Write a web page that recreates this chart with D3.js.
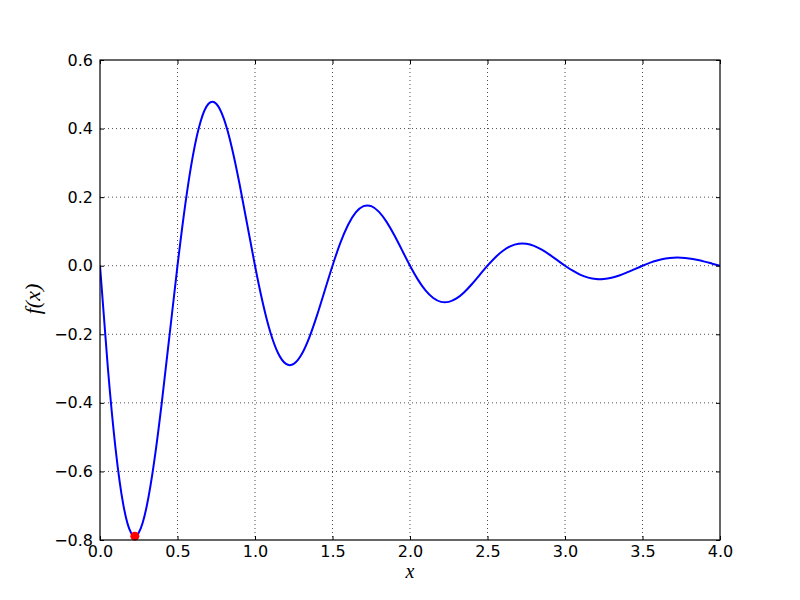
<!DOCTYPE html>
<html><head><meta charset="utf-8">
<script src="https://cdn.jsdelivr.net/npm/d3@7"></script>
<style>body{margin:0;background:#fff}svg{display:block}</style>
</head><body>
<svg id="c" width="800" height="600"></svg>
<script>
const xValues = [0,0.05,0.1,0.15,0.2,0.25,0.3,0.35,0.4,0.45,0.5,0.55,0.6,0.65,0.7,0.75,0.8,0.85,0.9,0.95,
1,1.05,1.1,1.15,1.2,1.25,1.3,1.35,1.4,1.45,1.5,1.55,1.6,1.65,1.7,1.75,1.8,1.85,1.9,1.95,
2,2.05,2.1,2.15,2.2,2.25,2.3,2.35,2.4,2.45,2.5,2.55,2.6,2.65,2.7,2.75,2.8,2.85,2.9,2.95,
3,3.05,3.1,3.15,3.2,3.25,3.3,3.35,3.4,3.45,3.5,3.55,3.6,3.65,3.7,3.75,3.8,3.85,3.9,3.95,4];
const yValues = [0,-0.2939,-0.5319,-0.6963,-0.7787,-0.7788,-0.7046,-0.5701,-0.3940,-0.1970,
0,0.1783,0.3226,0.4223,0.4723,0.4724,0.4274,0.3458,0.2390,0.1195,
0,-0.1081,-0.1957,-0.2562,-0.2865,-0.2865,-0.2592,-0.2097,-0.1450,-0.0725,
0,0.0656,0.1187,0.1554,0.1737,0.1738,0.1572,0.1272,0.0879,0.0440,
0,-0.0398,-0.0720,-0.0942,-0.1054,-0.1054,-0.0954,-0.0772,-0.0533,-0.0267,
0,0.0241,0.0437,0.0572,0.0639,0.0639,0.0578,0.0468,0.0323,0.0162,
0,-0.0146,-0.0265,-0.0347,-0.0388,-0.0388,-0.0351,-0.0284,-0.0196,-0.0098,
0,0.0089,0.0161,0.0210,0.0235,0.0235,0.0213,0.0172,0.0119,0.0059,0];
const minPoint = [0.2249, -0.7887];
const xTicks = [0,0.5,1,1.5,2,2.5,3,3.5,4];
const yTicks = [-0.8,-0.6,-0.4,-0.2,0,0.2,0.4,0.6];

const L=100,R=720,T=60,B=540;
const svg=d3.select('#c');
const x=d3.scaleLinear().domain([0,4]).range([L,R]);
const y=d3.scaleLinear().domain([-0.8,0.6]).range([B,T]);
const fmt=d=>d3.format('.1f')(d).replace('-','\u2212');

// grid
const g=svg.append('g');
g.selectAll('.gx').data(xTicks.slice(1,-1)).join('line')
 .attr('x1',d=>x(d)).attr('x2',d=>x(d)).attr('y1',T).attr('y2',B)
 .attr('stroke','#000').attr('stroke-width',0.7).attr('stroke-dasharray','1,3');
g.selectAll('.gy').data(yTicks.slice(1,-1)).join('line')
 .attr('y1',d=>y(d)).attr('y2',d=>y(d)).attr('x1',L).attr('x2',R)
 .attr('stroke','#000').attr('stroke-width',0.7).attr('stroke-dasharray','1,3');

// curve
const pts=xValues.map((v,i)=>[v,yValues[i]]);
svg.append('defs').append('clipPath').attr('id','clip').append('rect')
 .attr('x',L).attr('y',T).attr('width',R-L).attr('height',B-T);
svg.append('path').datum(pts).attr('clip-path','url(#clip)')
 .attr('d',d3.line().x(d=>x(d[0])).y(d=>y(d[1])).curve(d3.curveNatural))
 .attr('fill','none').attr('stroke','#0000ff').attr('stroke-width',2);
svg.append('circle').attr('cx',x(minPoint[0])).attr('cy',y(minPoint[1])).attr('r',4.5).attr('fill','#ff0000');

// axes (ticks inside, mirrored)
const tl=4;
const axB=d3.axisBottom(x).tickValues(xTicks).tickFormat(fmt).tickSizeInner(-tl).tickSizeOuter(0).tickPadding(6);
const axT=d3.axisTop(x).tickValues(xTicks).tickFormat('').tickSizeInner(-tl).tickSizeOuter(0);
const axLf=d3.axisLeft(y).tickValues(yTicks).tickFormat(fmt).tickSizeInner(-tl).tickSizeOuter(0).tickPadding(7);
const axRt=d3.axisRight(y).tickValues(yTicks).tickFormat('').tickSizeInner(-tl).tickSizeOuter(0);
function style(sel){sel.select('.domain').remove();sel.selectAll('line').attr('stroke','#000');
 sel.selectAll('text').attr('fill','#000').style('font-family','DejaVu Sans').style('font-size','16px');}
svg.append('g').attr('transform',`translate(0,${B})`).call(axB).call(style);
svg.append('g').attr('transform',`translate(0,${T})`).call(axT).call(style);
svg.append('g').attr('transform',`translate(${L},0)`).call(axLf).call(style);
svg.append('g').attr('transform',`translate(${R},0)`).call(axRt).call(style);
svg.append('rect').attr('x',L).attr('y',T).attr('width',R-L).attr('height',B-T)
 .attr('fill','none').attr('stroke','#000').attr('stroke-width',1.2);

// labels
svg.append('text').attr('x',410).attr('y',578).attr('text-anchor','middle')
 .style('font-family','Liberation Serif').style('font-style','italic').style('font-size','20px').text('x');
svg.append('text').attr('transform','translate(40,299) rotate(-90)').attr('text-anchor','middle')
 .style('font-family','Liberation Serif').style('font-style','italic').style('font-size','22px').text('f(x)');
</script>
</body></html>
